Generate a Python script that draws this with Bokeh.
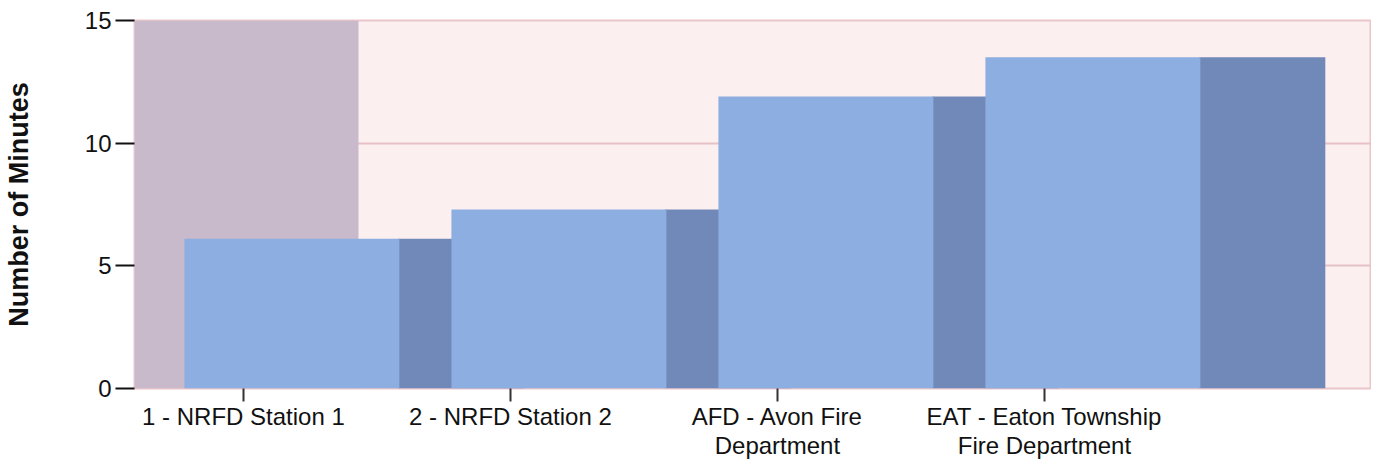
from bokeh.plotting import figure
from bokeh.models import FixedTicker, Range1d, ColumnDataSource
from bokeh.embed import file_html
from bokeh.resources import INLINE

# ---- data ----
categories = ["1 - NRFD Station 1", "2 - NRFD Station 2",
              "AFD - Avon Fire\nDepartment", "EAT - Eaton Township\nFire Department"]
minutes = [6.1, 7.3, 11.9, 13.5]
y_ticks = [0, 5, 10, 15]
y_title = "Number of Minutes"

# ---- layout constants (positions in category units) ----
X_START, X_END = -0.408, 4.225
BAR_LEFT, BAR_RIGHT = -0.221, 0.584     # front face of each bar relative to its tick
SIDE_RIGHT = 1.052                      # darker side face extends to here
BAND_RIGHT = 0.431                      # shaded band on the left

pos = list(range(len(categories)))
src = ColumnDataSource(dict(
    x=pos,
    v=minutes,
    fl=[p_ + BAR_LEFT for p_ in pos],
    fr=[p_ + BAR_RIGHT for p_ in pos],
    sl=[p_ + BAR_RIGHT - 0.005 for p_ in pos],
    sr=[p_ + SIDE_RIGHT for p_ in pos],
))

p = figure(output_backend="svg", toolbar_location=None,
           x_range=Range1d(X_START, X_END), y_range=Range1d(0, 15),
           frame_width=1237, frame_height=368,
           min_border_left=125, min_border_right=0, min_border_top=20, min_border_bottom=4,
           background_fill_color="#fcefef", border_fill_color="white")

p.outline_line_color = "#eac6cb"
p.outline_line_width = 2

# grid
p.xgrid.grid_line_color = None
p.ygrid.ticker = FixedTicker(ticks=y_ticks)
p.ygrid.grid_line_color = "#e6c2c7"
p.ygrid.grid_line_width = 2

# shaded band on the left
p.quad(left=X_START, right=BAND_RIGHT, bottom=y_ticks[0], top=y_ticks[-1],
       fill_color="#c9bacb", line_color=None)

# dark side faces (behind)
p.quad(left="sl", right="sr", bottom=0, top="v", source=src,
       fill_color="#7089b9", line_color=None)
# light front faces
p.quad(left="fl", right="fr", bottom=0, top="v", source=src,
       fill_color="#8daee0", line_color=None)

# y axis
ya = p.yaxis[0]
ya.ticker = FixedTicker(ticks=y_ticks)
ya.axis_line_color = None
ya.major_tick_line_color = "#111111"
ya.major_tick_line_width = 2
ya.major_tick_out = 19
ya.major_tick_in = 0
ya.minor_tick_line_color = None
ya.major_label_standoff = 4
ya.major_label_text_font = "Liberation Sans"
ya.major_label_text_font_size = "24px"
ya.major_label_text_color = "#111111"
ya.axis_label = y_title
ya.axis_label_text_font = "Liberation Sans"
ya.axis_label_text_font_style = "bold"
ya.axis_label_text_font_size = "27px"
ya.axis_label_text_color = "#111111"
ya.axis_label_standoff = 48

# x axis
xa = p.xaxis[0]
xa.ticker = FixedTicker(ticks=pos)
xa.major_label_overrides = {i: c for i, c in enumerate(categories)}
xa.axis_line_color = None
xa.major_tick_line_color = "#333333"
xa.major_tick_line_width = 2
xa.major_tick_out = 13
xa.major_tick_in = 0
xa.minor_tick_line_color = None
xa.major_label_standoff = 1
xa.major_label_text_font = "Liberation Sans"
xa.major_label_text_font_size = "24px"
xa.major_label_text_color = "#111111"
xa.major_label_text_line_height = 1.1

open("out.html", "w").write(file_html(p, INLINE))
